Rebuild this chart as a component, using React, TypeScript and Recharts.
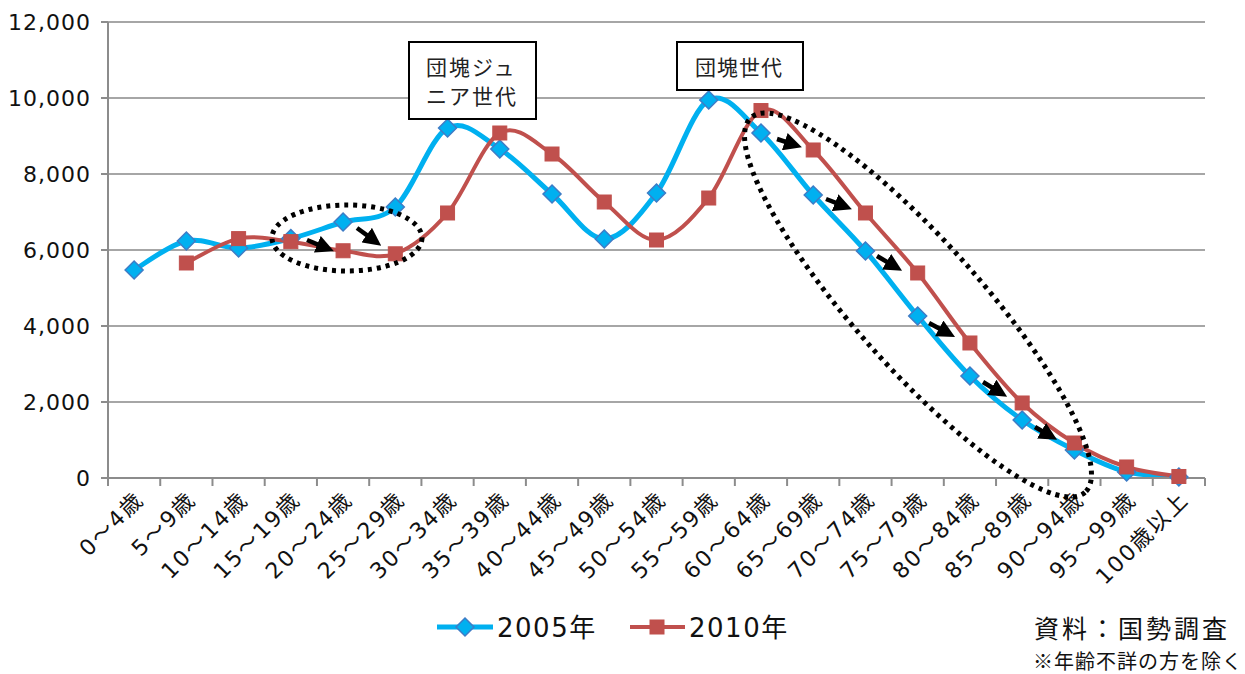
import React from "react";
import { CartesianGrid, Line, LineChart, XAxis, YAxis } from "recharts";

const ageGroups = [
  "0～4歳", "5～9歳", "10～14歳", "15～19歳", "20～24歳", "25～29歳", "30～34歳",
  "35～39歳", "40～44歳", "45～49歳", "50～54歳", "55～59歳", "60～64歳", "65～69歳",
  "70～74歳", "75～79歳", "80～84歳", "85～89歳", "90～94歳", "95～99歳", "100歳以上"
];
const pop2005 = [
  5474, 6237, 6053, 6300, 6737, 7132, 9210, 8658, 7474, 6290, 7500,
  9947, 9079, 7447, 5974, 4263, 2684, 1526, 737, 160, 25
];
const pop2010 = [
  null, 5658, 6300, 6220, 5980, 5900, 6974, 9079, 8526, 7263, 6263,
  7368, 9670, 8632, 6974, 5395, 3553, 1974, 921, 290, 40
];
const yTicks = [0, 2000, 4000, 6000, 8000, 10000, 12000];

const W = 1245;
const H = 674;
const PLOT_LEFT = 108;
const PLOT_RIGHT = 1205;
const PLOT_TOP = 22;
const PLOT_BOTTOM = 478;
const BAND = (PLOT_RIGHT - PLOT_LEFT) / ageGroups.length;

const BLUE = "#00B0F0";
const BLUE_EDGE = "#3E7CC6";
const RED = "#C0504D";
const FONT = "'DejaVu Sans', 'Noto Sans CJK JP', sans-serif";
const JP_FONT = "'Noto Sans CJK JP', sans-serif";

const data = ageGroups.map((age, i) => ({ age, y2005: pop2005[i], y2010: pop2010[i] }));

// Excel-style smoothed line (Catmull-Rom through every point)
const excelCurve = (context: any) => {
  let xs: number[] = [];
  let ys: number[] = [];
  return {
    areaStart() {},
    areaEnd() {},
    lineStart() {
      xs = [];
      ys = [];
    },
    point(x: number, y: number) {
      xs.push(+x);
      ys.push(+y);
    },
    lineEnd() {
      const n = xs.length;
      if (!n) return;
      context.moveTo(xs[0], ys[0]);
      for (let i = 0; i < n - 1; i++) {
        const a = Math.max(i - 1, 0);
        const d = Math.min(i + 2, n - 1);
        context.bezierCurveTo(
          xs[i] + (xs[i + 1] - xs[a]) / 6,
          ys[i] + (ys[i + 1] - ys[a]) / 6,
          xs[i + 1] - (xs[d] - xs[i]) / 6,
          ys[i + 1] - (ys[d] - ys[i]) / 6,
          xs[i + 1],
          ys[i + 1]
        );
      }
    }
  };
};

const Diamond = ({ cx, cy }: any) => {
  if (cx == null || cy == null) return null;
  const r = 9;
  return (
    <polygon
      points={`${cx},${cy - r} ${cx + r},${cy} ${cx},${cy + r} ${cx - r},${cy}`}
      fill={BLUE}
      stroke={BLUE_EDGE}
      strokeWidth={1.5}
    />
  );
};

const Square = ({ cx, cy }: any) => {
  if (cx == null || cy == null) return null;
  const s = 14;
  return <rect x={cx - s / 2} y={cy - s / 2} width={s} height={s} fill={RED} stroke={RED} strokeWidth={1} />;
};

const AgeTick = ({ x, y, payload, index }: any) => {
  const last = index === ageGroups.length - 1;
  return (
    <g>
      <line x1={x - BAND / 2} x2={x - BAND / 2} y1={y} y2={y + 8} stroke="#8c8c8c" strokeWidth={2} />
      {last && <line x1={x + BAND / 2} x2={x + BAND / 2} y1={y} y2={y + 8} stroke="#8c8c8c" strokeWidth={2} />}
      <text
        x={x + 11}
        y={y + 23}
        transform={`rotate(-45 ${x + 11} ${y + 23})`}
        textAnchor="end"
        fontSize={22}
        letterSpacing={2}
        fontFamily={FONT}
        fill="#111"
      >
        {payload.value}
      </text>
    </g>
  );
};

const arrows = [
  [307, 240, 336, 252],
  [357, 228, 383, 247],
  [777, 139, 804, 148],
  [826, 199, 854, 210],
  [877, 256, 904, 272],
  [929, 323, 957, 338],
  [983, 382, 1009, 398],
  [1035, 427, 1059, 441]
];

export default function App() {
  return (
    <div style={{ position: "absolute", left: 0, top: 0, width: W, height: H, background: "#fff" }}>
      <LineChart
        width={W}
        height={H}
        data={data}
        margin={{ top: PLOT_TOP, right: W - PLOT_RIGHT, left: 0, bottom: 0 }}
      >
        <CartesianGrid vertical={false} stroke="#a6a6a6" strokeWidth={2} />
        <XAxis
          dataKey="age"
          height={H - PLOT_BOTTOM}
          padding={{ left: BAND / 2, right: BAND / 2 }}
          interval={0}
          tickLine={false}
          tickSize={0}
          tickMargin={0}
          axisLine={{ stroke: "#8c8c8c", strokeWidth: 2 }}
          tick={<AgeTick />}
        />
        <YAxis
          width={PLOT_LEFT}
          domain={[0, 12000]}
          ticks={yTicks}
          interval={0}
          tickSize={7}
          tickMargin={10}
          axisLine={{ stroke: "#8c8c8c", strokeWidth: 2 }}
          tickLine={{ stroke: "#8c8c8c", strokeWidth: 2 }}
          tickFormatter={(v: number) => v.toLocaleString("en-US")}
          tick={{ fontSize: 22, letterSpacing: 1, fontFamily: FONT, fill: "#111" }}
        />
        <Line
          dataKey="y2005"
          type={excelCurve as any}
          stroke={BLUE}
          strokeWidth={5}
          dot={<Diamond />}
          activeDot={false}
          isAnimationActive={false}
        />
        <Line
          dataKey="y2010"
          type={excelCurve as any}
          stroke={RED}
          strokeWidth={4}
          dot={<Square />}
          activeDot={false}
          isAnimationActive={false}
        />
      </LineChart>

      <svg
        width={W}
        height={H}
        style={{ position: "absolute", left: 0, top: 0, pointerEvents: "none" }}
      >
        <defs>
          <marker id="head" markerWidth="4" markerHeight="4" refX="2.5" refY="2" orient="auto" markerUnits="strokeWidth">
            <path d="M0,0 L4,2 L0,4 z" fill="#000" />
          </marker>
        </defs>

        <ellipse cx={347} cy={238} rx={75} ry={33} fill="none" stroke="#000" strokeWidth={5} strokeDasharray="4 5" />
        <ellipse
          cx={918}
          cy={305}
          rx={251}
          ry={63}
          transform="rotate(48.3 918 305)"
          fill="none"
          stroke="#000"
          strokeWidth={5}
          strokeDasharray="4 5"
        />
        {arrows.map(([x1, y1, x2, y2], i) => {
          const len = Math.hypot(x2 - x1, y2 - y1);
          const k = (len - 9) / len;
          return (
            <line
              key={i}
              x1={x1}
              y1={y1}
              x2={x1 + (x2 - x1) * k}
              y2={y1 + (y2 - y1) * k}
              stroke="#000"
              strokeWidth={4.5}
              markerEnd="url(#head)"
            />
          );
        })}

        <rect x={409} y={42} width={127} height={77} fill="#fff" stroke="#000" strokeWidth={2} />
        <text x={426} y={75} fontSize={21} letterSpacing={2} fontFamily={JP_FONT} fill="#222">団塊ジュ</text>
        <text x={426} y={104} fontSize={21} letterSpacing={2} fontFamily={JP_FONT} fill="#222">ニア世代</text>
        <rect x={677} y={42} width={126} height={48} fill="#fff" stroke="#000" strokeWidth={2} />
        <text x={695} y={75} fontSize={21} letterSpacing={1} fontFamily={JP_FONT} fill="#222">団塊世代</text>

        <line x1={437} x2={493} y1={627} y2={627} stroke={BLUE} strokeWidth={5} />
        <Diamond cx={465} cy={627} />
        <text x={497} y={637} fontSize={26} letterSpacing={1.5} fontFamily={FONT} fill="#111">2005年</text>
        <line x1={630} x2={685} y1={627} y2={627} stroke={RED} strokeWidth={4} />
        <Square cx={657} cy={627} />
        <text x={689} y={637} fontSize={26} letterSpacing={1.5} fontFamily={FONT} fill="#111">2010年</text>

        <text x={1034} y={638} fontSize={25} letterSpacing={3} fontFamily={JP_FONT} fill="#111">資料：国勢調査</text>
        <text x={1033} y={669} fontSize={20} letterSpacing={1} fontFamily={JP_FONT} fill="#111">※年齢不詳の方を除く</text>
      </svg>
    </div>
  );
}
